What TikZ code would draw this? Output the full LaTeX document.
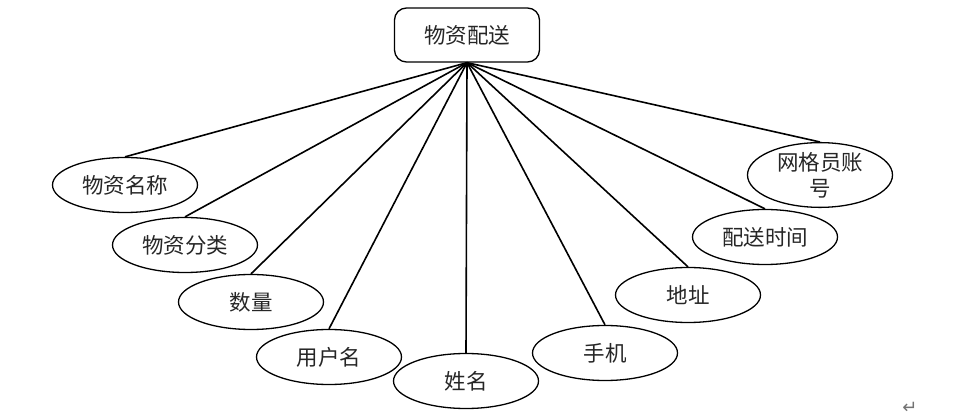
\documentclass[tikz,border=0pt]{standalone}
\usepackage{fontspec}
\setmainfont{Noto Sans CJK SC}
\newfontfamily\symfont{DejaVu Sans}
\usetikzlibrary{shapes.geometric}
\begin{document}
\begin{tikzpicture}[x=1pt,y=1pt,
  attr/.style={draw=black, line width=1.3pt, ellipse, inner sep=0pt,
    minimum width=145pt, minimum height=55pt, font=\fontsize{21.5}{26}\selectfont, text=black!85, align=center},
  topbox/.style={draw=black, line width=1.3pt, rounded corners=12pt, inner sep=0pt,
    minimum width=145pt, minimum height=54pt, font=\fontsize{21.5}{26}\selectfont, text=black!85},
  link/.style={line width=1.6pt, black}]
\useasboundingbox (0,0) rectangle (953,-419);
\node[topbox] (top) at (467,-35) {物资配送};
\node[attr] (a1) at (125,-185) {物资名称};
\node[attr] (a2) at (185,-245) {物资分类};
\node[attr] (a3) at (251,-302) {数量};
\node[attr] (a4) at (329,-357) {用户名};
\node[attr] (a5) at (466,-381) {姓名};
\node[attr] (a6) at (605,-353) {手机};
\node[attr] (a7) at (688,-295) {地址};
\node[attr] (a8) at (765,-237) {配送时间};
\node[attr] (a9) at (820,-175) {网格员账\\号};
\foreach \n in {a1,a2,a3,a4,a5,a6,a7,a8,a9}
  \draw[link] (top.south) -- (\n.north);
\node[font=\symfont\fontsize{18}{20}\selectfont, text=black!55, inner sep=0pt] (mark) at (910,-408) {↵};
\end{tikzpicture}
\end{document}
